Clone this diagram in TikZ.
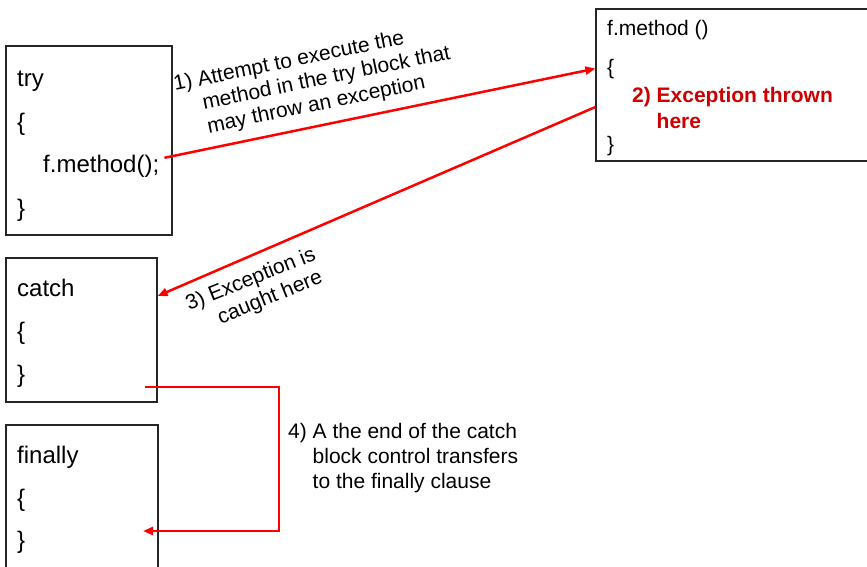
\documentclass[tikz,border=0pt]{standalone}
\usepackage{fontspec}
\setmainfont{Liberation Sans}
\usetikzlibrary{arrows.meta}
\definecolor{throwred}{RGB}{204,0,0}

\begin{document}
\begin{tikzpicture}[x=1pt, y=-1pt,
        codebox/.style={draw=black!85, line width=1.2pt, inner sep=0pt},
        code/.style={anchor=base west, inner sep=0pt, font=\fontsize{24}{28}\selectfont},
        mcode/.style={anchor=base west, inner sep=0pt, font=\fontsize{21}{25}\selectfont},
        note/.style={anchor=base west, inner sep=0pt, font=\fontsize{21}{24}\selectfont},
        flow/.style={red, line width=2.5pt, -{Triangle[length=10pt, width=8pt]}}]
        \path[use as bounding box, clip] (0,0) rectangle (867,566);

        \node[codebox, minimum width=166pt, minimum height=189pt] (trybox) at (89,140.5) {};
        \node[codebox, minimum width=151pt, minimum height=144pt] (catchbox) at (81.5,330) {};
        \node[codebox, minimum width=152pt, minimum height=155pt] (finbox) at (82,502.5) {};
        \node[codebox, minimum width=284pt, minimum height=152pt] (mbox) at (738,85) {};

        \node[code] (trykw) at (17,86) {try};
        \node[code] (tryopen) at (17,130) {\{};
        \node[code] (trycall) at (43,172) {f.method();};
        \node[code] (tryclose) at (17,216) {\}};

        \node[code] (catchkw) at (17,296) {catch};
        \node[code] (catchopen) at (17,339) {\{};
        \node[code] (catchclose) at (17,382) {\}};

        \node[code] (finkw) at (17,463) {finally};
        \node[code] (finopen) at (17,506) {\{};
        \node[code] (finclose) at (17,548) {\}};

        \node[mcode] (mhead) at (607,35) {f.method ()};
        \node[mcode] (mopen) at (607,74) {\{};
        \node[mcode, throwred, font=\fontsize{21}{25}\selectfont\bfseries, align=left] (mthrow) at (632,102)
                {\begin{tabular}[t]{@{}l@{ }l@{}}2) & Exception thrown\\[1pt] & here\end{tabular}};
        \node[mcode] (mclose) at (607,151) {\}};

        \coordinate (catchout) at (145,387);
        \coordinate (turn) at (279,531);
        \coordinate (finin) at (143,531);

        \draw[flow] ([shift={(5,-8)}]trycall.east) -- (mbox.west |- mopen);
        \draw[flow] ([yshift=-22pt]mbox.west) -- ([yshift=34pt]catchbox.east);
        \draw[flow] (catchout) -| (turn) -- (finin);

        \node[note, rotate=11.6] (attempt) at (175,91)
                {\begin{tabular}[t]{@{}l@{ }l@{}}1) & Attempt to execute the\\ & method in the try block that\\ & may throw an exception\end{tabular}};
        \node[note, rotate=22] (caught) at (189,311)
                {\begin{tabular}[t]{@{}l@{ }l@{}}3) & Exception is\\ & caught here\end{tabular}};
        \node[note] (transfer) at (288,438)
                {\begin{tabular}[t]{@{}l@{ }l@{}}4) & A the end of the catch\\[1pt] & block control transfers\\[1pt] & to the finally clause\end{tabular}};
\end{tikzpicture}
\end{document}
